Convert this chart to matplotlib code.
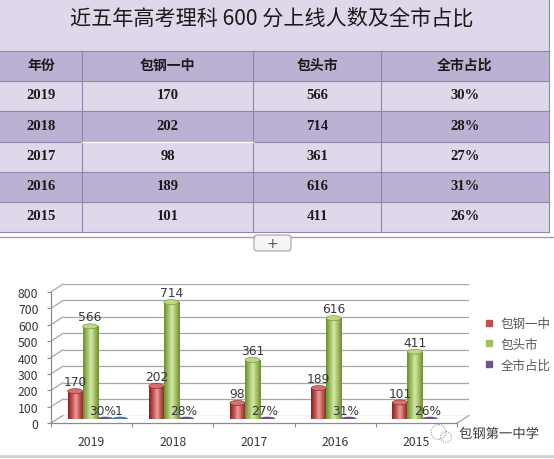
import matplotlib.pyplot as plt
import numpy as np
from matplotlib.patches import Rectangle, Ellipse, FancyBboxPatch, Circle
from matplotlib.colors import LinearSegmentedColormap
from matplotlib.lines import Line2D
import matplotlib.patheffects as pe

plt.rcParams['font.family'] = ['Noto Sans CJK SC', 'DejaVu Sans']

title = "近五年高考理科 600 分上线人数及全市占比"
columns = ["年份", "包钢一中", "包头市", "全市占比"]
years = ["2019", "2018", "2017", "2016", "2015"]
school = [170, 202, 98, 189, 101]
city = [566, 714, 361, 616, 411]
share = [30, 28, 27, 31, 26]  # percent
extra = [1, None, None, None, None]  # stray "1" drawn next to 2019
series_names = ["包钢一中", "包头市", "全市占比"]
yticks = list(range(0, 801, 100))

W, H = 554, 460
fig = plt.figure(figsize=(W / 100, H / 100), dpi=100)
fig.patch.set_facecolor('white')

# pixel overlay for the table and decorations
bg = fig.add_axes([0, 0, 1, 1])
bg.set_xlim(0, W)
bg.set_ylim(H, 0)
bg.axis('off')

light = '#dfd8ea'
dark = '#bdb1d3'
gline = '#9384ad'
col_x = [0, 82, 253, 381, 549]
row_y = [52, 82, 112, 143, 173, 203, 233]

bg.add_patch(Rectangle((0, 0), 549, 52, fc=light, ec='none'))
bg.text(272, 19, title, ha='center', va='center', fontsize=15.2,
        weight='medium', color='#1a1a1a')

rows = [columns] + [[y, str(a), str(b), str(c) + "%"]
                    for y, a, b, c in zip(years, school, city, share)]
for i, row in enumerate(rows):
    y0, y1 = row_y[i], row_y[i + 1]
    bg.add_patch(Rectangle((0, y0), 549, y1 - y0,
                           fc=dark if i % 2 == 0 else light, ec='none'))
    for j, txt in enumerate(row):
        xc = (col_x[j] + col_x[j + 1]) / 2
        if i == 0:
            bg.text(xc, (y0 + y1) / 2 - 1, txt, ha='center', va='center',
                    fontsize=10, weight='bold', color='#1a1a1a')
        else:
            bg.text(xc, (y0 + y1) / 2 - 1.5, txt, ha='center', va='center',
                    fontsize=10.5, weight='bold', family='Liberation Serif',
                    color='#1a1a1a')
for yy in row_y:
    bg.plot([0, 549], [yy, yy], color=gline, lw=0.8)
for xx in col_x[1:4]:
    bg.plot([xx, xx], [52, 233], color=gline, lw=0.8)
bg.plot([549, 549], [0, 233], color=gline, lw=0.8)
bg.plot([82, 253], [143, 143], color='white', lw=1)

# sheet separator and "+" button
bg.plot([0, 254], [237.5, 237.5], color='#a0a0a0', lw=1)
bg.plot([291, W], [237.5, 237.5], color='#a0a0a0', lw=1)
bg.add_patch(FancyBboxPatch((254, 236), 37, 16, boxstyle='round,pad=0,rounding_size=3',
                            fc='#f5f5f5', ec='#a0a0a0', lw=0.8))
bg.text(272.5, 244.5, "+", ha='center', va='center', fontsize=10, color='#555555',
        family='DejaVu Sans')
bg.plot([0, W], [456.5, 456.5], color='#d0d0d0', lw=2)


def px_axes(left, right, top, bottom):
    a = fig.add_axes([left / W, 1 - bottom / H, (right - left) / W, (bottom - top) / H])
    a.set_xlim(0, 5)
    a.set_ylim(0, 800)
    a.patch.set_alpha(0)
    return a


ax_back = px_axes(63, 469, 285, 416.5)
ax = px_axes(51, 457, 293, 424)
ax_bar = px_axes(57, 463, 289, 420)

# back wall grid
ax_back.axis('off')
ax_back.hlines(yticks, 0, 5, color='#a6a6a6', lw=0.9)

# front axis
lab_fs = 8.8
for s in ['top', 'right']:
    ax.spines[s].set_visible(False)
for s in ['left', 'bottom']:
    ax.spines[s].set_color('#8c8c8c')
    ax.spines[s].set_linewidth(0.9)
ax.set_yticks(yticks)
ax.set_yticklabels([str(v) for v in yticks])
ax.set_xticks(range(6))
ax.set_xticklabels([''] * 6)
ax.set_xticks(np.arange(5) + 0.5, minor=True)
ax.set_xticklabels(years, minor=True)
ax.tick_params(axis='both', which='major', direction='out', length=3,
               color='#8c8c8c', labelsize=lab_fs, labelcolor='#383838')
ax.tick_params(axis='y', pad=6)
ax.tick_params(axis='x', which='minor', length=0, pad=9, labelsize=lab_fs,
               labelcolor='#383838')

# depth lines from front axis to back wall
inv = ax.transData.inverted()
for v in yticks:
    bx, by = inv.transform(ax_back.transData.transform((0, v)))
    ax.plot([0, bx], [v, by], color='#a6a6a6', lw=0.9, clip_on=False)
bx, by = inv.transform(ax_back.transData.transform((5, 0)))
ax.plot([5, bx], [0, by], color='#a6a6a6', lw=0.9, clip_on=False)

# cylinders
ax_bar.axis('off')
w = 0.185
xc = np.arange(5) + 0.5
px_unit = 800 / 131.0
eh = 5 * px_unit
styles = [
    ('#7d2523', '#c0504d', '#e8a19d', '#d9706b'),
    ('#6e8c32', '#9fbf5c', '#d6e9b2', '#bcd884'),
    ('#4b3a6e', '#6a5390', '#8a74b0', '#6a5390'),
    ('#2f5a8a', '#4f81bd', '#7da3d3', '#4f81bd'),
]


def cylinder(x, h, st, label, dx=0):
    d, base, hi, top = st
    bar = ax_bar.bar(x, h, w, color=base, lw=0, zorder=3)[0]
    cm = LinearSegmentedColormap.from_list('c', [d, base, hi, base, d])
    img = ax_bar.imshow(np.linspace(0, 1, 64)[None, :],
                        extent=(bar.get_x(), bar.get_x() + bar.get_width(), 0, h),
                        cmap=cm, aspect='auto', zorder=3.1, interpolation='bicubic')
    img.set_clip_path(bar)
    ax_bar.add_patch(Ellipse((x, 0), w, eh, fc=base, ec='none', zorder=2.9))
    ax_bar.add_patch(Ellipse((x, h), w, eh, fc=top, ec=d, lw=0.4, zorder=3.2))
    ax_bar.annotate(label, (x, h + eh / 2), xytext=(dx, 0.3), textcoords='offset points',
                    ha='center', va='bottom', fontsize=lab_fs, color='#383838',
                    family='DejaVu Sans', zorder=5)


def disc(x, st, label, dx=-2):
    d, base, hi, top = st
    ax_bar.add_patch(Ellipse((x, 0), w, 4 * px_unit, fc=base, ec=d, lw=0.4, zorder=3))
    ax_bar.annotate(label, (x, 2 * px_unit), xytext=(dx, 0.3), textcoords='offset points',
                    ha='center', va='bottom', fontsize=lab_fs, color='#383838',
                    family='DejaVu Sans', zorder=5)


for i in range(5):
    cylinder(xc[i] - 1.5 * w, school[i], styles[0], str(school[i]))
    cylinder(xc[i] - 0.5 * w, city[i], styles[1], str(city[i]))
    disc(xc[i] + 0.5 * w, styles[2], str(share[i]) + "%")
    if extra[i] is not None:
        disc(xc[i] + 1.5 * w, styles[3], str(extra[i]), dx=-1)
ax_bar.set_xlim(0, 5)
ax_bar.set_ylim(0, 800)

# legend
handles = [Line2D([], [], marker='s', ls='none', color=styles[k][1], markersize=4.5)
           for k in range(3)]
leg = fig.legend(handles, series_names, loc='upper left',
                 bbox_to_anchor=(484 / W, 1 - 318 / H), frameon=False,
                 fontsize=9, handlelength=0.8, handletextpad=0.5,
                 labelspacing=0.62, borderpad=0, borderaxespad=0)
for t in leg.get_texts():
    t.set_color('#5a5a5a')

# watermark
bg.add_patch(Circle((438.5, 433), 7.5, fc='none', ec='#9a9a9a', lw=0.8, ls=(0, (1, 1.2))))
bg.add_patch(Circle((446, 438), 5.5, fc='none', ec='#9a9a9a', lw=0.8, ls=(0, (1, 1.2))))
bg.text(459, 435, "包钢第一中学", ha='left', va='center', fontsize=9.6, color='#3a3a3a',
        path_effects=[pe.withStroke(linewidth=2.5, foreground='white')])

fig.savefig('out.png', dpi=100)
